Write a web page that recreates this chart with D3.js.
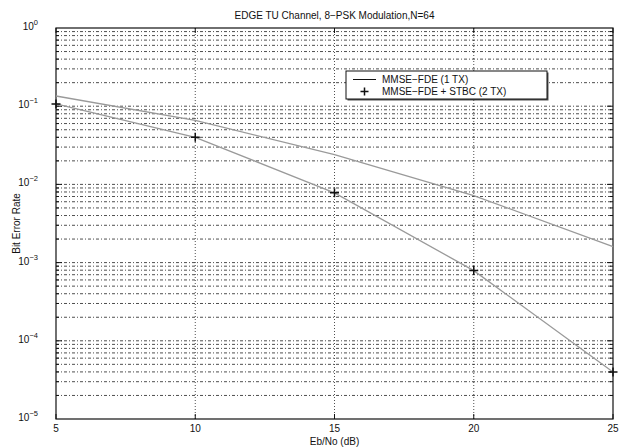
<!DOCTYPE html>
<html>
<head>
<meta charset="utf-8">
<script src="https://d3js.org/d3.v7.min.js"></script>
<style>
  body { margin: 0; background: #fff; }
  svg text { font-family: "Liberation Sans", Arial, sans-serif; fill: #111; }
  .grid line { stroke: #222; stroke-width: 0.8px; }
</style>
</head>
<body>
<div id="chart"></div>
<script>
// Eb/No points (dB)
const ebno = [5, 10, 15, 20, 25];
// BER, single antenna
const berOneTx = [0.135, 0.066, 0.024, 0.0072, 0.0016];
// BER, STBC with two antennas
const berStbc = [0.107, 0.040, 0.0078, 0.00079, 0.00004];
const xTicks = [5, 10, 15, 20, 25];
const yDecades = [0, -1, -2, -3, -4, -5];

const width = 624, height = 448;
const margin = {top: 28, right: 11, bottom: 29, left: 56};

const svg = d3.select("#chart").append("svg")
  .attr("width", width)
  .attr("height", height);

const x = d3.scaleLinear().domain([5, 25]).range([margin.left, width - margin.right]);
const y = d3.scaleLog().domain([1e-5, 1]).range([height - margin.bottom, margin.top]);

// grid lines (minor and major decades)
const yGrid = [];
for (let e = -5; e < 0; e++) {
  for (let m = 1; m < 10; m++) yGrid.push(m * Math.pow(10, e));
}
const grid = svg.append("g").attr("class", "grid");
grid.selectAll(".hg")
  .data(yGrid.filter(v => v > 1e-5))
  .enter().append("line")
  .attr("x1", x(5)).attr("x2", x(25))
  .attr("y1", d => y(d)).attr("y2", d => y(d))
  .attr("stroke-dasharray", "3,2,1,2");
grid.selectAll(".vg")
  .data(xTicks.slice(1, -1))
  .enter().append("line")
  .attr("x1", d => x(d)).attr("x2", d => x(d))
  .attr("y1", y(1)).attr("y2", y(1e-5))
  .attr("stroke-dasharray", "1,2");

// frame
svg.append("rect")
  .attr("x", x(5)).attr("y", y(1))
  .attr("width", x(25) - x(5)).attr("height", y(1e-5) - y(1))
  .attr("fill", "none").attr("stroke", "#111").attr("stroke-width", 1.2);

// minor ticks on left and right
const ticksG = svg.append("g").attr("stroke", "#111");
ticksG.selectAll(".tl")
  .data(yGrid.filter(v => v > 1e-5))
  .enter().append("line")
  .attr("x1", x(5)).attr("x2", d => x(5) + (Math.log10(d) % 1 === 0 ? 6 : 3))
  .attr("y1", d => y(d)).attr("y2", d => y(d));
ticksG.selectAll(".tr")
  .data(yGrid.filter(v => v > 1e-5))
  .enter().append("line")
  .attr("x1", x(25)).attr("x2", d => x(25) - (Math.log10(d) % 1 === 0 ? 6 : 3))
  .attr("y1", d => y(d)).attr("y2", d => y(d));
ticksG.selectAll(".tb")
  .data(xTicks)
  .enter().append("line")
  .attr("x1", d => x(d)).attr("x2", d => x(d))
  .attr("y1", y(1e-5)).attr("y2", y(1e-5) - 5);
ticksG.selectAll(".tt")
  .data(xTicks)
  .enter().append("line")
  .attr("x1", d => x(d)).attr("x2", d => x(d))
  .attr("y1", y(1)).attr("y2", y(1) + 5);

// series lines
const line = d3.line().x((d, i) => x(ebno[i])).y(d => y(d));
[berOneTx, berStbc].forEach(s => {
  svg.append("path")
    .datum(s)
    .attr("d", line)
    .attr("fill", "none")
    .attr("stroke", "#9a9a9a")
    .attr("stroke-width", 1.3);
});

// plus markers for STBC
svg.append("g").selectAll("path")
  .data(berStbc)
  .enter().append("path")
  .attr("transform", (d, i) => `translate(${x(ebno[i])},${y(d)})`)
  .attr("d", "M-4.5,0H4.5M0,-4.5V4.5")
  .attr("stroke", "#111")
  .attr("stroke-width", 1.5);

// axis labels
svg.append("g").selectAll("text")
  .data(xTicks)
  .enter().append("text")
  .attr("x", d => x(d)).attr("y", y(1e-5) + 13)
  .attr("text-anchor", "middle")
  .attr("font-size", 10)
  .text(d => d);

const yl = svg.append("g").selectAll("text")
  .data(yDecades)
  .enter().append("text")
  .attr("x", x(5) - 18).attr("y", d => y(Math.pow(10, d)) + 2)
  .attr("text-anchor", "end")
  .attr("font-size", 10);
yl.append("tspan").text("10");
yl.append("tspan")
  .attr("dy", -5)
  .attr("font-size", 7.5)
  .text(d => d === 0 ? "0" : "\u2212" + (-d));

svg.append("text")
  .attr("x", (x(5) + x(25)) / 2).attr("y", 19)
  .attr("text-anchor", "middle")
  .attr("font-size", 10)
  .text("EDGE TU Channel, 8\u2212PSK Modulation,N=64");

svg.append("text")
  .attr("x", (x(5) + x(25)) / 2).attr("y", 445)
  .attr("text-anchor", "middle")
  .attr("font-size", 10)
  .text("Eb/No (dB)");

svg.append("text")
  .attr("transform", `translate(20,${(y(1) + y(1e-5)) / 2}) rotate(-90)`)
  .attr("text-anchor", "middle")
  .attr("font-size", 10)
  .text("Bit Error Rate");

// legend
const lg = svg.append("g").attr("transform", "translate(346,71)");
lg.append("rect").attr("x", 1.5).attr("y", 1.5).attr("width", 201).attr("height", 28).attr("fill", "#555");
lg.append("rect").attr("width", 201).attr("height", 28)
  .attr("fill", "#fff").attr("stroke", "#111").attr("stroke-width", 1);
lg.append("line").attr("x1", 7).attr("x2", 30).attr("y1", 8.5).attr("y2", 8.5)
  .attr("stroke", "#111").attr("stroke-width", 1);
lg.append("path").attr("d", "M18.5,16.5V24.5M14.5,20.5H22.5")
  .attr("stroke", "#111").attr("stroke-width", 1.5);
lg.append("text").attr("x", 36).attr("y", 12).attr("font-size", 10).text("MMSE\u2212FDE (1 TX)");
lg.append("text").attr("x", 36).attr("y", 24).attr("font-size", 10).text("MMSE\u2212FDE + STBC (2 TX)");
</script>
</body>
</html>
